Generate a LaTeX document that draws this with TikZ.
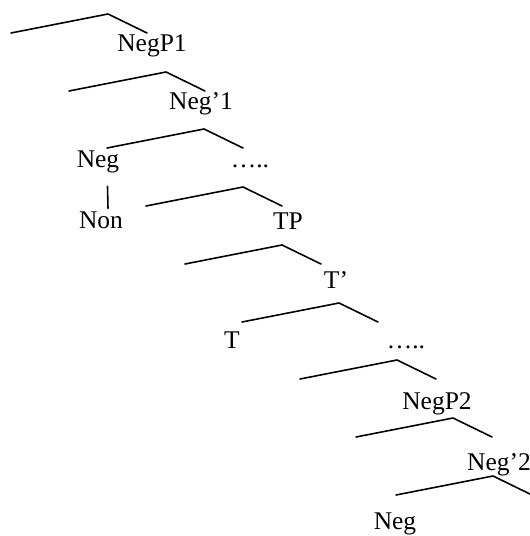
\documentclass[tikz,border=0pt]{standalone}
\usepackage{fontspec}
\setmainfont{Liberation Serif}
\begin{document}
\begin{tikzpicture}[
    x=0.02cm, y=-0.02cm,
    lab/.style={anchor=base, inner sep=2pt, font=\fontsize{14.5}{17}\selectfont},
    branch/.style={line width=0.9pt, line cap=round, line join=round}
]
\useasboundingbox (0,0) rectangle (529,536);

% apex of each branching
\coordinate (b1) at (108,14);
\coordinate (b2) at (166,72);
\coordinate (b3) at (204,129);
\coordinate (b4) at (243,187);
\coordinate (b5) at (282,245);
\coordinate (b6) at (339,303);
\coordinate (b7) at (397,360);
\coordinate (b8) at (453,418);
\coordinate (b9) at (493,476);

\foreach \b in {b1,b2,b3,b4,b5,b6,b7,b8,b9}
    \draw[branch] (\b) ++(-97,19) -- (\b) -- ++(39,19);

% labels
\node[lab] (negp1) at (152,52) {NegP1};
\node[lab] (negbar1) at (201,110) {Neg’1};
\node[lab] (neg1) at (98,168) {Neg};
\node[lab] (dots1) at (250,168) {…..};
\node[lab] (non) at (101,229) {Non};
\node[lab] (tp) at (288,230) {TP};
\node[lab] (tbar) at (336,288) {T’};
\node[lab] (t) at (232,348) {T};
\node[lab] (dots2) at (406,348) {…..};
\node[lab] (negp2) at (437,409) {NegP2};
\node[lab] (negbar2) at (499,470) {Neg’2};
\node[lab] (neg2) at (395,529) {Neg};

\draw[branch] ([xshift=0.19cm, yshift=-0.18cm]neg1.south) -- ([xshift=0.14cm]non.north);
\end{tikzpicture}
\end{document}
